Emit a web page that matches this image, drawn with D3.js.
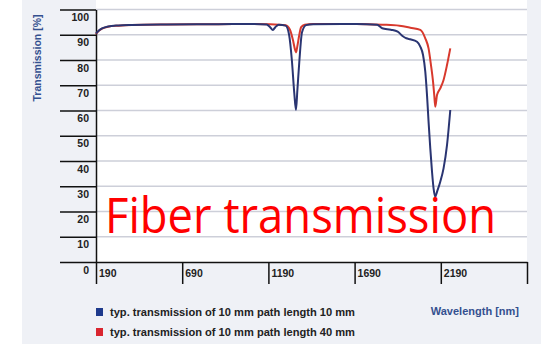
<!DOCTYPE html>
<html>
<head>
<meta charset="utf-8">
<script src="https://cdn.jsdelivr.net/npm/d3@7"></script>
<style>
  html, body { margin: 0; padding: 0; background: #ffffff; }
  svg { display: block; }
</style>
</head>
<body>
<svg id="chart" width="541" height="344"></svg>
<script>
// Wavelength samples (nm) and transmission (%) for each path length
const blueWavelength = [190, 205, 225, 260, 320, 400, 600, 900, 1100, 1180, 1200, 1216, 1230, 1250, 1290, 1310, 1326, 1340, 1350, 1358, 1370, 1385, 1409, 1450, 1700, 1821, 1850, 1900, 1940, 1970, 1990, 2013, 2052, 2071, 2087, 2100, 2110, 2119, 2129, 2139, 2148, 2158, 2168, 2187, 2206, 2226, 2245];
const blueValues     = [90.5, 91.6, 92.5, 93.3, 93.7, 93.9, 94.1, 94.2, 94.3, 94.1, 93.0, 91.9, 93.0, 94.0, 93.6, 90.0, 80.0, 67.0, 60.2, 68.0, 80.0, 91.0, 93.8, 94.2, 94.3, 94.0, 92.6, 92.0, 91.2, 89.4, 88.6, 88.2, 87.2, 85.3, 82.0, 75.4, 66.1, 55.6, 45.0, 35.8, 29.2, 25.9, 27.8, 31.8, 37.1, 46.3, 60.2];

const redWavelength = [190, 205, 225, 260, 320, 400, 600, 900, 1100, 1200, 1290, 1315, 1332, 1343, 1350, 1358, 1368, 1380, 1400, 1450, 1700, 1850, 1950, 2013, 2071, 2100, 2119, 2133, 2145, 2152, 2158, 2168, 2187, 2206, 2226, 2245];
const redValues     = [90.3, 91.5, 92.4, 93.2, 93.6, 93.9, 94.1, 94.2, 94.3, 94.2, 93.8, 92.0, 88.0, 84.5, 83.0, 85.5, 89.5, 93.0, 94.0, 94.3, 94.3, 94.0, 93.6, 92.8, 91.9, 88.6, 84.6, 78.0, 71.4, 66.1, 61.5, 66.1, 68.8, 72.1, 78.0, 84.6];

// Axis ticks and labels
const xTickValues = [190, 690, 1190, 1690, 2190, 2690];
const xTickLabels = ["190", "690", "1190", "1690", "2190", ""];
const yTickValues = [0, 10, 20, 30, 40, 50, 60, 70, 80, 90, 100];

const legendLabels = [
  "typ. transmission of 10 mm path length 10 mm",
  "typ. transmission of 10 mm path length 40 mm"
];
const seriesColors = ["#1e3a8c", "#d9252f"];
const lineColors = ["#2a3572", "#d8392d"];

const svg = d3.select("#chart");
const W = 541, H = 344;
const plot = { left: 96, right: 527, top: 9.5, bottom: 262 };

const x = d3.scaleLinear().domain([190, 2690]).range([plot.left, plot.right]);
const y = d3.scaleLinear().domain([0, 100]).range([plot.bottom, plot.top]);

// Backgrounds: light panel with a white plotting field
svg.append("rect").attr("x", 22).attr("y", 0).attr("width", W - 22).attr("height", H).attr("fill", "#eff1f6");
svg.append("rect").attr("x", plot.left).attr("y", 0).attr("width", plot.right - plot.left).attr("height", plot.bottom).attr("fill", "#ffffff");

const tickFont = "'Liberation Sans', Arial, sans-serif";

// Horizontal gridlines
svg.append("g")
  .selectAll("line")
  .data(yTickValues.filter(v => v > 0))
  .join("line")
  .attr("x1", plot.left).attr("x2", plot.right)
  .attr("y1", d => y(d)).attr("y2", d => y(d))
  .attr("stroke", "#cdcfd9").attr("stroke-width", 1.5);

// Y axis: long ticks to the left, labels tucked under each tick, inside its span
const yAxis = d3.axisLeft(y).tickValues(yTickValues).tickSize(36).tickSizeOuter(0);
const gy = svg.append("g").attr("transform", `translate(${plot.left},0)`).call(yAxis);
gy.select(".domain").attr("stroke", "#111").attr("stroke-width", 1.5);
gy.selectAll(".tick line").attr("stroke", "#111").attr("stroke-width", 1.5);
gy.selectAll(".tick text")
  .attr("x", -7)
  .attr("dy", "1.05em")
  .attr("fill", "#222")
  .style("font-family", tickFont).style("font-weight", "bold").style("font-size", "10.5px");

// X axis: ticks hanging below the baseline, labels to the right of each tick
const xAxis = d3.axisBottom(x).tickValues(xTickValues).tickSize(22).tickSizeOuter(0)
  .tickFormat((d, i) => xTickLabels[i]);
const gx = svg.append("g").attr("transform", `translate(0,${plot.bottom})`).call(xAxis);
gx.select(".domain").attr("stroke", "#111").attr("stroke-width", 1.5);
gx.selectAll(".tick line").attr("stroke", "#111").attr("stroke-width", 1.5);
gx.selectAll(".tick text")
  .attr("text-anchor", "start").attr("x", 2.5).attr("y", 8).attr("dy", "0.71em")
  .attr("fill", "#222")
  .style("font-family", tickFont).style("font-weight", "bold").style("font-size", "10.5px");

// Transmission curves
const line = d3.line().x(d => x(d[0])).y(d => y(d[1])).curve(d3.curveMonotoneX);
const redData = redWavelength.map((w, i) => [w, redValues[i]]);
const blueData = blueWavelength.map((w, i) => [w, blueValues[i]]);

svg.append("path").datum(redData).attr("d", line)
  .attr("fill", "none").attr("stroke", lineColors[1]).attr("stroke-width", 2).attr("stroke-linejoin", "round");
svg.append("path").datum(blueData).attr("d", line)
  .attr("fill", "none").attr("stroke", lineColors[0]).attr("stroke-width", 2).attr("stroke-linejoin", "round");

// Axis titles
svg.append("text")
  .attr("transform", "translate(41,58) rotate(-90)")
  .attr("text-anchor", "middle")
  .attr("fill", "#34508f")
  .style("font-family", tickFont).style("font-weight", "bold").style("font-size", "10.5px")
  .text("Transmission [%]");

svg.append("text")
  .attr("x", 519).attr("y", 315)
  .attr("text-anchor", "end")
  .attr("fill", "#34508f")
  .style("font-family", tickFont).style("font-weight", "bold").style("font-size", "11px")
  .text("Wavelength [nm]");

// Legend
const legend = svg.append("g");
legendLabels.forEach((label, i) => {
  const ly = 312 + i * 20;
  legend.append("rect").attr("x", 96).attr("y", ly - 4).attr("width", 7).attr("height", 8).attr("fill", seriesColors[i]);
  legend.append("text")
    .attr("x", 110).attr("y", ly + 4)
    .attr("fill", "#222")
    .style("font-family", tickFont).style("font-weight", "bold").style("font-size", "11px")
    .attr("textLength", 245).attr("lengthAdjust", "spacingAndGlyphs")
    .text(label);
});

// Title
svg.append("text")
  .attr("x", 105).attr("y", 233)
  .attr("fill", "#ff0000")
  .style("font-family", "'Open Sans', 'Noto Sans', sans-serif").style("font-size", "50px")
  .attr("textLength", 391).attr("lengthAdjust", "spacingAndGlyphs")
  .text("Fiber transmission");
</script>
</body>
</html>
